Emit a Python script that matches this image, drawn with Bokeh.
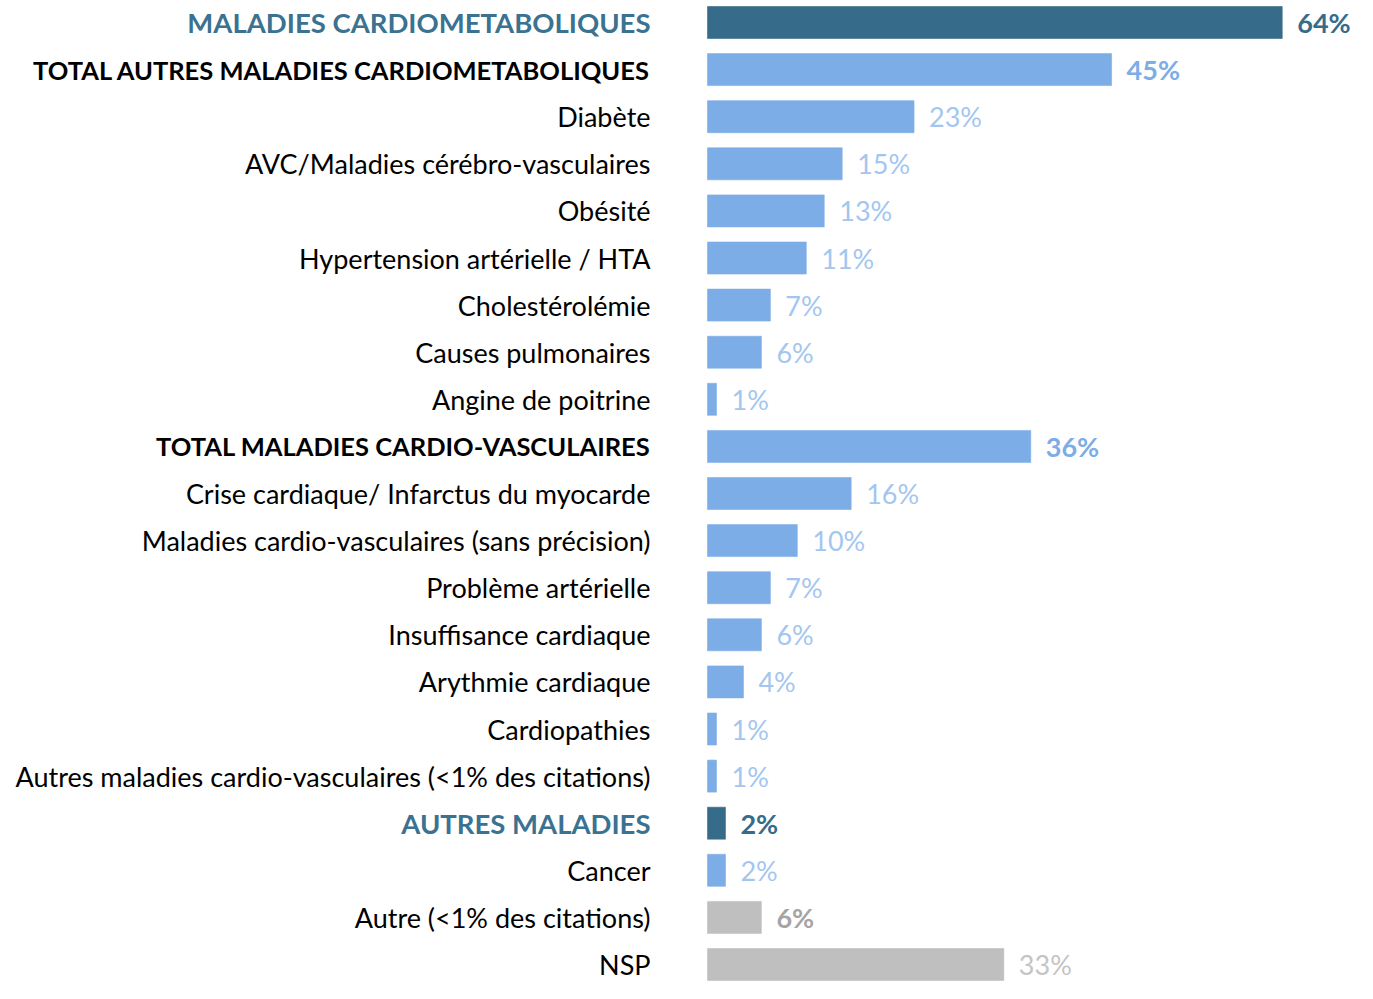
from bokeh.plotting import figure
from bokeh.models import ColumnDataSource, Range1d
from bokeh.core.properties import value
from bokeh.embed import file_html
from bokeh.resources import INLINE

categories = [
    "MALADIES CARDIOMETABOLIQUES",
    "TOTAL AUTRES MALADIES CARDIOMETABOLIQUES",
    "Diabète",
    "AVC/Maladies cérébro-vasculaires",
    "Obésité",
    "Hypertension artérielle / HTA",
    "Cholestérolémie",
    "Causes pulmonaires",
    "Angine de poitrine",
    "TOTAL MALADIES CARDIO-VASCULAIRES",
    "Crise cardiaque/ Infarctus du myocarde",
    "Maladies cardio-vasculaires (sans précision)",
    "Problème artérielle",
    "Insuffisance cardiaque",
    "Arythmie cardiaque",
    "Cardiopathies",
    "Autres maladies cardio-vasculaires (<1% des citations)",
    "AUTRES MALADIES",
    "Cancer",
    "Autre (<1% des citations)",
    "NSP",
]
values = [64, 45, 23, 15, 13, 11, 7, 6, 1, 36, 16, 10, 7, 6, 4, 1, 1, 2, 2, 6, 33]
# row kind: header (dark), total (bold light), item (light), other (grey bold), nsp (grey)
kinds = ["header", "total", "item", "item", "item", "item", "item", "item", "item",
         "total", "item", "item", "item", "item", "item", "item", "item",
         "header", "item", "other", "nsp"]

DARK = "#366C89"
LIGHT = "#7DADE6"
LIGHT_TXT = "#A3C6F0"
GREY = "#BFBFBF"

bar_col = {"header": DARK, "total": LIGHT, "item": LIGHT, "other": GREY, "nsp": GREY}
lab_col = {"header": "#3B7291", "total": "#000000", "item": "#000000", "other": "#000000", "nsp": "#000000"}
lab_sty = {"header": "bold", "total": "bold", "item": "normal", "other": "normal", "nsp": "normal"}
lab_size = {"header": "27.5px", "total": "25.5px", "item": "27px", "other": "27px", "nsp": "27px"}
val_col = {"header": DARK, "total": LIGHT, "item": LIGHT_TXT, "other": "#A5A5A5", "nsp": "#C4C4C4"}
val_sty = {"header": "bold", "total": "bold", "item": "normal", "other": "bold", "nsp": "normal"}

W, H = 1357, 983
S = 8.98      # px per percent
X0 = 707      # px of 0%
ROW = 47.1
Y0 = 22.0

ys = list(range(len(categories)))
src = ColumnDataSource(dict(
    y=ys, v=values, cat=categories,
    vlab=[f"{v}%" for v in values],
    bc=[bar_col[k] for k in kinds],
    lc=[lab_col[k] for k in kinds],
    ls=[lab_sty[k] for k in kinds],
    lz=[lab_size[k] for k in kinds],
    vc=[val_col[k] for k in kinds],
    vs=[val_sty[k] for k in kinds],
    zero=[0] * len(values),
))

p = figure(width=W, height=H, output_backend="svg", toolbar_location=None,
           x_range=Range1d(-X0 / S, (W - X0) / S),
           y_range=Range1d((H - Y0) / ROW, -Y0 / ROW),
           min_border=0, min_border_left=0, min_border_right=0,
           min_border_top=0, min_border_bottom=0)
p.xaxis.visible = False
p.yaxis.visible = False
p.grid.visible = False
p.outline_line_color = None
p.background_fill_color = "white"
p.border_fill_color = "white"

p.hbar(y="y", left="zero", right="v", height=32 / ROW, fill_color="bc",
       line_color="bc", line_alpha=0.6, source=src)

FONT = "Lato"
p.text(x="zero", y="y", text="cat", x_offset=-57, text_align="right",
       text_baseline="middle", text_font=value(FONT), text_font_size="lz",
       text_color="lc", text_font_style="ls", source=src)
p.text(x="v", y="y", text="vlab", x_offset=15, text_align="left",
       text_baseline="middle", text_font=value(FONT), text_font_size="27px",
       text_color="vc", text_font_style="vs", source=src)

open("out.html", "w").write(file_html(p, INLINE))
